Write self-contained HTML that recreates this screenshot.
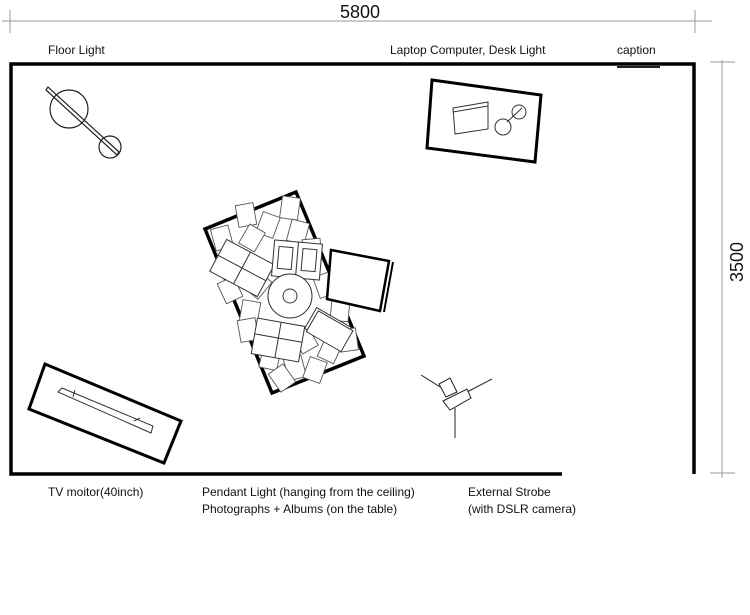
<!DOCTYPE html>
<html><head><meta charset="utf-8"><style>
html,body{margin:0;padding:0;background:#fff;width:750px;height:615px;overflow:hidden}
svg{display:block}
text{font-family:"Liberation Sans",sans-serif;fill:#111}
</style></head><body>
<svg width="750" height="615" viewBox="0 0 750 615" xmlns="http://www.w3.org/2000/svg">
<!-- dimension lines -->
<g stroke="#999" stroke-width="1">
<line x1="2" y1="21" x2="712" y2="21"/>
<line x1="10" y1="10" x2="10" y2="33"/>
<line x1="695" y1="10" x2="695" y2="33"/>
<line x1="722" y1="60" x2="722" y2="478"/>
<line x1="710" y1="62" x2="735" y2="62"/>
<line x1="710" y1="473" x2="735" y2="473"/>
</g>
<text x="360" y="18" font-size="18" text-anchor="middle" font-family="DejaVu Sans Condensed, Liberation Sans Narrow, sans-serif" style="font-weight:300">5800</text>
<text transform="translate(743,262) rotate(-90)" font-size="18" text-anchor="middle">3500</text>
<!-- labels -->
<g font-size="12">
<text x="48" y="54">Floor Light</text>
<text x="390" y="54">Laptop Computer,  Desk Light</text>
<text x="617" y="54">caption</text>
<text x="48" y="496">TV moitor(40inch)</text>
<text x="202" y="496">Pendant Light (hanging from the ceiling)</text>
<text x="202" y="513">Photographs + Albums (on the table)</text>
<text x="468" y="496">External Strobe</text>
<text x="468" y="513">(with DSLR camera)</text>
</g>
<line x1="617" y1="67" x2="660" y2="67" stroke="#222" stroke-width="2"/>
<!-- room walls -->
<g stroke="#000" stroke-width="3.5" fill="none">
<polyline points="562,474 11,474 11,64 694,64 694,474"/>
</g>
<!-- floor light -->
<g stroke="#222" stroke-width="1.2" fill="none">
<circle cx="69" cy="109" r="19"/>
<circle cx="110" cy="147" r="11"/>
<polygon points="46,90 48,87 119,152 117,155"/>
</g>
<!-- desk -->
<polygon points="432,80 541,95 535,162 427,148" fill="none" stroke="#000" stroke-width="3"/>
<g stroke="#333" stroke-width="1" fill="none">
<polygon points="453,108 488,102 488,129 455,134"/>
<line x1="453" y1="112" x2="488" y2="106"/>
<circle cx="503" cy="127" r="8"/>
<circle cx="519" cy="112" r="7"/>
<line x1="507" y1="122" x2="522" y2="108"/>
</g>
<!-- table -->
<polygon points="205,229 296,192 364,356 272,393" fill="#fff" stroke="#000" stroke-width="3.5"/>
<g stroke="#555" stroke-width="0.9" fill="#fff">
<rect x="-9" y="-11" width="18" height="22" transform="translate(246,215) rotate(-10)"/>
<rect x="-9" y="-11" width="18" height="22" transform="translate(290,208) rotate(8)"/>
<rect x="-9" y="-11" width="18" height="22" transform="translate(268,225) rotate(20)"/>
<rect x="-9" y="-11" width="18" height="22" transform="translate(222,238) rotate(-15)"/>
<rect x="-9" y="-11" width="18" height="22" transform="translate(298,232) rotate(15)"/>
<rect x="-9" y="-11" width="18" height="22" transform="translate(252,238) rotate(30)"/>
<rect x="-9" y="-11" width="18" height="22" transform="translate(312,250) rotate(-5)"/>
<rect x="-9" y="-11" width="18" height="22" transform="translate(230,290) rotate(-25)"/>
<rect x="-9" y="-11" width="18" height="22" transform="translate(250,312) rotate(10)"/>
<rect x="-9" y="-11" width="18" height="22" transform="translate(258,285) rotate(40)"/>
<rect x="-9" y="-11" width="18" height="22" transform="translate(325,285) rotate(-20)"/>
<rect x="-9" y="-11" width="18" height="22" transform="translate(340,310) rotate(5)"/>
<rect x="-9" y="-11" width="18" height="22" transform="translate(348,340) rotate(-8)"/>
<rect x="-9" y="-11" width="18" height="22" transform="translate(330,350) rotate(25)"/>
<rect x="-9" y="-11" width="18" height="22" transform="translate(305,340) rotate(-30)"/>
<rect x="-9" y="-11" width="18" height="22" transform="translate(270,358) rotate(12)"/>
<rect x="-9" y="-11" width="18" height="22" transform="translate(295,368) rotate(-15)"/>
<rect x="-9" y="-11" width="18" height="22" transform="translate(315,370) rotate(20)"/>
<rect x="-9" y="-11" width="18" height="22" transform="translate(282,378) rotate(-35)"/>
<rect x="-9" y="-11" width="18" height="22" transform="translate(248,330) rotate(-10)"/>
</g>
<g stroke="#333" stroke-width="1" fill="#fff">
<!-- album 1 -->
<g transform="translate(242,268) rotate(28)">
<rect x="-27" y="-18" width="54" height="36"/>
<line x1="0" y1="-18" x2="0" y2="18"/>
<line x1="-27" y1="0" x2="27" y2="0"/>
</g>
<!-- album 2 -->
<g transform="translate(297,260) rotate(5)">
<rect x="-24" y="-18" width="48" height="36"/>
<line x1="0" y1="-18" x2="0" y2="18"/>
<rect x="-19" y="-12" width="14" height="22"/>
<rect x="5" y="-12" width="14" height="22"/>
</g>
<!-- album 3 -->
<g transform="translate(278,340) rotate(10)">
<rect x="-24" y="-18" width="48" height="36"/>
<line x1="0" y1="-18" x2="0" y2="18"/>
<line x1="-24" y1="-2" x2="24" y2="-2"/>
</g>
<g transform="translate(328,328) rotate(30)">
<rect x="-20" y="-12" width="40" height="24"/>
<rect x="-17" y="-10" width="40" height="24"/>
</g>
<circle cx="290" cy="296" r="22"/>
<circle cx="290" cy="296" r="7" fill="none"/>
</g>
<!-- chair -->
<g stroke="#000" stroke-width="2.5" fill="#fff">
<polygon points="331,250 389,261 380,311 327,299"/>
</g>
<line x1="393" y1="262" x2="384" y2="312" stroke="#000" stroke-width="2"/>
<!-- TV -->
<polygon points="45,364 181,421 164,463 29,409" fill="none" stroke="#000" stroke-width="3"/>
<g stroke="#333" stroke-width="1" fill="none">
<polygon points="58,392 62,388 153,426 151,433"/>
<line x1="75" y1="390" x2="73" y2="397"/>
<line x1="140" y1="418" x2="134" y2="421"/>
</g>
<!-- strobe -->
<g stroke="#222" stroke-width="1" fill="#fff">
<line x1="421" y1="375" x2="445" y2="390"/>
<line x1="492" y1="379" x2="467" y2="392"/>
<line x1="455" y1="408" x2="455" y2="438"/>
<polygon points="439,384 450,378 457,392 446,397"/>
<polygon points="443,401 467,389 471,398 450,410"/>
</g>
</svg>
</body></html>
